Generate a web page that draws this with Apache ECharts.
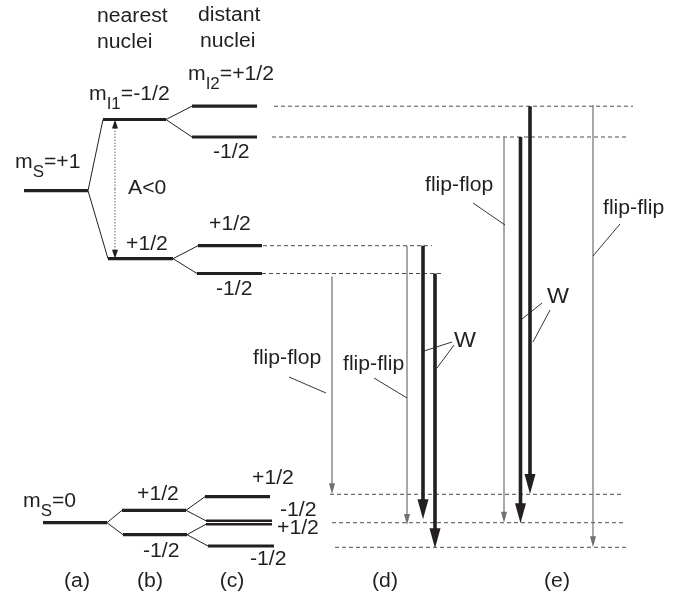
<!DOCTYPE html>
<html>
<head>
<meta charset="utf-8">
<script src="https://cdn.jsdelivr.net/npm/echarts@6/dist/echarts.min.js"></script>
<style>
  html, body { margin: 0; padding: 0; background: #ffffff; }
  #chart { width: 682px; height: 601px; }
</style>
</head>
<body>
<div id="chart"></div>
<script>
// ---------------- energies (arbitrary units, higher = more energetic) ----------------
const electronLevels = [410.3, 78.3];               // m_S = +1, m_S = 0
const nearestUpper   = [481.5, 342.3];              // m_I1 = -1/2, +1/2 (A < 0)
const distantUpper   = [494.8, 464.0, 355.3, 327.5]; // m_I2 = +1/2, -1/2 under each m_I1
const nearestLower   = [90.7, 66.3];                // m_I1 = +1/2, -1/2
const distantLower   = [104.3, 80.2, 76.8, 55.0];   // m_I2 = +1/2, -1/2, +1/2, -1/2
const finalStates    = [106.7, 78.3, 53.7];         // reference lines at the transition ends

// quantum-number labels
const electronSpins      = ['+1', '0'];
const nearestUpperSpins  = ['-1/2', '+1/2'];
const distantUpperSpins  = ['+1/2', '-1/2', '+1/2', '-1/2'];
const nearestLowerSpins  = ['+1/2', '-1/2'];
const distantLowerSpins  = ['+1/2', '-1/2', '+1/2', '-1/2'];

// ---------------- transitions ----------------
const transitionNames = ['flip-flop', 'flip-flip', 'W', 'W', 'flip-flop', 'W', 'W', 'flip-flip'];
const transitionPanel = ['(d)', '(d)', '(d)', '(d)', '(e)', '(e)', '(e)', '(e)'];
const transitionFrom  = [324.5, 355.3, 355.3, 327.5, 464.0, 464.0, 494.8, 496.0];
const transitionTo    = [106.7, 76.0, 81.7, 52.7, 78.3, 77.7, 107.0, 53.7];

const panelLabels  = ['(a)', '(b)', '(c)', '(d)', '(e)'];
const columnTitles = [['nearest', 'nuclei'], ['distant', 'nuclei']];

// ---------------- layout (horizontal placement in diagram units) ----------------
const layout = {
  electronX: [[24, 88], [43, 107]],
  nearestUpperX: [[103, 166], [108, 173]],
  distantUpperX: [[192, 257], [192, 257], [198, 262], [197, 262]],
  nearestLowerX: [[122, 186], [123, 187]],
  distantLowerX: [[205, 270], [206, 272], [206, 272], [208, 274]],
  upperGuideX: [[274, 633], [272, 627], [263, 432], [262, 443]],
  lowerGuideX: [[330, 623], [332, 625], [335, 628]],
  transitionX: [332, 407, 423, 435, 504, 520.5, 530, 593],
  splittingX: 115,
  panelX: [77, 150, 232, 385, 557],
  panelE: 12.2
};

const INK = '#231f20';
const GREY = '#707070';
const FONT_FAMILY = '"Liberation Sans", Arial, Helvetica, sans-serif';
const FONT_SIZE = 20;
const SUB_SIZE = 16;
const TEXT_SCALE_X = 1.06;
const SUB_DROP = 8.5;

// ---------------- level tree ----------------
const levels = [];
function addLevel(E, span, parent) { levels.push({ E, x0: span[0], x1: span[1], parent }); return levels.length - 1; }
const eUp = addLevel(electronLevels[0], layout.electronX[0], null);
const nUp = nearestUpper.map((E, i) => addLevel(E, layout.nearestUpperX[i], eUp));
distantUpper.forEach((E, i) => addLevel(E, layout.distantUpperX[i], nUp[Math.floor(i / 2)]));
const eLo = addLevel(electronLevels[1], layout.electronX[1], null);
const nLo = nearestLower.map((E, i) => addLevel(E, layout.nearestLowerX[i], eLo));
const dLo = distantLower.map((E, i) => addLevel(E, layout.distantLowerX[i], nLo[Math.floor(i / 2)]));
const closePair = [dLo[1], dLo[2]];   // the two nearly degenerate levels drawn slightly thinner

const levelData = levels.map(l => [l.x0, l.E, l.x1]);
const connectorData = levels.filter(l => l.parent !== null)
  .map(l => [levels[l.parent].x1, levels[l.parent].E, l.x0, l.E]);

const guideData = [];
distantUpper.forEach((E, i) => guideData.push([layout.upperGuideX[i][0], E, layout.upperGuideX[i][1]]));
finalStates.forEach((E, i) => guideData.push([layout.lowerGuideX[i][0], E, layout.lowerGuideX[i][1]]));

const transitionData = transitionNames.map((n, i) => [layout.transitionX[i], transitionFrom[i], transitionTo[i]]);

// ---------------- text ----------------
const measureCtx = document.createElement('canvas').getContext('2d');
function fontOf(size) { return size + 'px ' + FONT_FAMILY; }
function textWidth(str, size) { measureCtx.font = fontOf(size); return measureCtx.measureText(str).width; }

// each label: parts [text, isSubscript], anchor x, baseline energy, alignment, size
const labels = [];
function addLabel(parts, x, E, align, size) { labels.push({ parts, x, E, align: align || 'left', size: size || FONT_SIZE }); }

addLabel([[columnTitles[0][0]]], 97, 577.7);
addLabel([[columnTitles[0][1]]], 97, 551.7);
addLabel([[columnTitles[1][0]]], 198, 578.3);
addLabel([[columnTitles[1][1]]], 200, 552.7);

addLabel([['m'], ['S', true], ['=' + electronSpins[0]]], 15, 431.7);
addLabel([['m'], ['I1', true], ['=' + nearestUpperSpins[0]]], 89, 499.3);
addLabel([['m'], ['I2', true], ['=' + distantUpperSpins[0]]], 188, 519.3);
addLabel([[distantUpperSpins[1]]], 213, 441.7);
addLabel([['A<0']], 128, 406);
addLabel([[nearestUpperSpins[1]]], 126, 349.3);
addLabel([[distantUpperSpins[2]]], 209, 369.3);
addLabel([[distantUpperSpins[3]]], 216, 305);

addLabel([['m'], ['S', true], ['=' + electronSpins[1]]], 23, 92.7);
addLabel([[nearestLowerSpins[0]]], 137, 99.3);
addLabel([[nearestLowerSpins[1]]], 143, 42.7);
addLabel([[distantLowerSpins[0]]], 252, 116);
addLabel([[distantLowerSpins[1]]], 280, 84);
addLabel([[distantLowerSpins[2]]], 277, 66);
addLabel([[distantLowerSpins[3]]], 250, 34.3);

// transition names with their leader lines
const nameAnchors = [[253, 236], [343, 229.3], [454, 252.7], [425, 408.3], [603, 386], [547, 296]];
const nameTexts = [transitionNames[0], transitionNames[1], transitionNames[2],
                   transitionNames[4], transitionNames[7], transitionNames[5]];
nameTexts.forEach((t, i) => addLabel([[t]], nameAnchors[i][0], nameAnchors[i][1], 'left', t === 'W' ? 22 : FONT_SIZE));

panelLabels.forEach((t, i) => addLabel([[t]], layout.panelX[i], layout.panelE, 'center'));

const leaderData = [
  [289, 224, 326, 208], [374, 223, 407, 203],
  [452, 259, 421, 249], [454, 256, 437, 233],
  [473, 398, 505, 376], [620, 377, 593, 345],
  [542, 298, 522, 282], [550, 291, 533, 259]
];

function renderLabel(params, api) {
  const lab = labels[params.dataIndex];
  const p = api.coord([api.value(0), api.value(1)]);
  let offset = 0;
  const children = [];
  lab.parts.forEach(part => {
    const sub = !!part[1];
    const size = sub ? SUB_SIZE : lab.size;
    const yMid = (sub ? SUB_DROP : 0) - 0.3465 * size;
    children.push({
      type: 'text', x: offset, y: yMid,
      style: { text: part[0], font: fontOf(size), fill: INK, align: 'left', verticalAlign: 'middle' }
    });
    offset += textWidth(part[0], size);
  });
  const shift = lab.align === 'center' ? -offset / 2 : 0;
  children.forEach(c => { c.x += shift; });
  return { type: 'group', x: p[0], y: p[1], scaleX: TEXT_SCALE_X, scaleY: 1, children };
}

function arrowGroup(api, x, eFrom, eTo, opt) {
  const p0 = api.coord([x, eFrom]);
  const p1 = api.coord([x, eTo]);
  const dir = p1[1] > p0[1] ? 1 : -1;
  const base = p1[1] - dir * opt.headLen;
  return [
    { type: 'line', shape: { x1: p0[0], y1: p0[1], x2: p1[0], y2: base + dir * 1.5 },
      style: { stroke: opt.color, lineWidth: opt.width, lineDash: opt.dash || null } },
    { type: 'polygon', shape: { points: [[p1[0], p1[1]], [p1[0] - opt.headW / 2, base], [p1[0] + opt.headW / 2, base]] },
      style: { fill: opt.headColor || opt.color } }
  ];
}

const chart = echarts.init(document.getElementById('chart'), null, { renderer: 'canvas' });

chart.setOption({
  animation: false,
  backgroundColor: '#ffffff',
  grid: { left: 0, right: 0, top: 0, bottom: 0 },
  xAxis: { type: 'value', min: 0, max: 682, show: false },
  yAxis: { type: 'value', min: 0, max: 601, show: false },
  series: [
    {
      // dashed reference lines
      type: 'custom', name: 'guides', data: guideData, silent: true,
      renderItem: (params, api) => {
        const a = api.coord([api.value(0), api.value(1)]);
        const b = api.coord([api.value(2), api.value(1)]);
        return { type: 'line', shape: { x1: a[0], y1: a[1], x2: b[0], y2: b[1] },
                 style: { stroke: '#4d4d4d', lineWidth: 1, lineDash: [4, 3] } };
      }
    },
    {
      // splitting connectors
      type: 'custom', name: 'connectors', data: connectorData, silent: true,
      renderItem: (params, api) => {
        const a = api.coord([api.value(0), api.value(1)]);
        const b = api.coord([api.value(2), api.value(3)]);
        return { type: 'line', shape: { x1: a[0], y1: a[1], x2: b[0], y2: b[1] },
                 style: { stroke: INK, lineWidth: 1 } };
      }
    },
    {
      // energy levels
      type: 'custom', name: 'levels', data: levelData, silent: true,
      renderItem: (params, api) => {
        const a = api.coord([api.value(0), api.value(1)]);
        const b = api.coord([api.value(2), api.value(1)]);
        return { type: 'line', shape: { x1: a[0], y1: a[1], x2: b[0], y2: b[1] },
                 style: { stroke: INK, lineWidth: closePair.indexOf(params.dataIndex) >= 0 ? 2.6 : 3.2 } };
      }
    },
    {
      // hyperfine splitting A<0 (double-headed dotted arrow)
      type: 'custom', name: 'splitting', data: [[layout.splittingX, nearestUpper[0], nearestUpper[1]]], silent: true,
      renderItem: (params, api) => {
        const x = api.value(0), eTop = api.value(1), eBot = api.value(2);
        const mid = (eTop + eBot) / 2;
        const opt = { color: '#8a8a8a', headColor: INK, width: 1.3, dash: [1.5, 1.5], headW: 6, headLen: 9 };
        return { type: 'group', children: arrowGroup(api, x, mid, eTop, opt).concat(arrowGroup(api, x, mid, eBot, opt)) };
      }
    },
    {
      // transitions
      type: 'custom', name: 'transitions', data: transitionData, silent: true,
      renderItem: (params, api) => {
        const thick = transitionNames[params.dataIndex] === 'W';
        const opt = thick
          ? { color: INK, width: 3.6, headW: 11, headLen: 20 }
          : { color: GREY, width: 1.2, headW: 6, headLen: 11 };
        return { type: 'group', children: arrowGroup(api, api.value(0), api.value(1), api.value(2), opt) };
      }
    },
    {
      // leader lines from names to arrows
      type: 'custom', name: 'leaders', data: leaderData, silent: true,
      renderItem: (params, api) => {
        const a = api.coord([api.value(0), api.value(1)]);
        const b = api.coord([api.value(2), api.value(3)]);
        return { type: 'line', shape: { x1: a[0], y1: a[1], x2: b[0], y2: b[1] },
                 style: { stroke: INK, lineWidth: 0.9 } };
      }
    },
    {
      // text labels
      type: 'custom', name: 'labels', data: labels.map(l => [l.x, l.E]), silent: true,
      renderItem: renderLabel
    }
  ]
});
</script>
</body>
</html>
